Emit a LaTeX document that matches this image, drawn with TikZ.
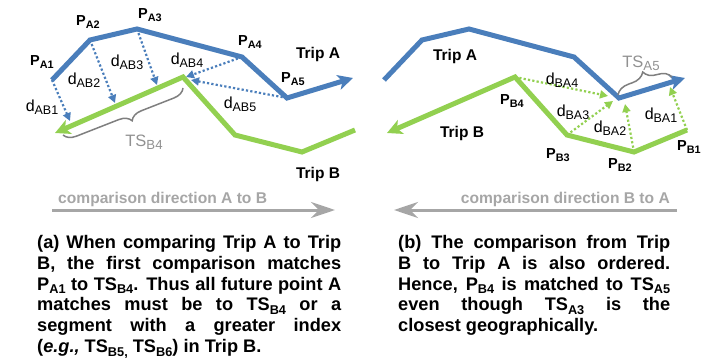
\documentclass[tikz,border=0pt]{standalone}
\usepackage{fontspec}
\setmainfont{Liberation Sans}
\usetikzlibrary{arrows.meta,decorations.pathreplacing}
\definecolor{tripblue}{RGB}{74,126,187}
\definecolor{tripgreen}{RGB}{146,208,80}
\definecolor{dirgray}{RGB}{166,166,166}
\definecolor{bracegray}{RGB}{127,127,127}
\definecolor{tsgray}{RGB}{145,145,145}
\newcommand{\lowsub}[2][0.72]{\raisebox{-0.2em}{\scalebox{#1}{#2}}}
\tikzset{
	trip/.style={line width=5pt},
	tripend/.style={-{Stealth[length=15pt,width=15pt,inset=4pt]}},
	dist/.style={line width=2.2pt,dash pattern=on 2.2pt off 2.2pt,-{Triangle[length=8pt,width=8pt]}},
	ptlabel/.style={font=\fontsize{14.5}{16}\selectfont\bfseries},
	dlabel/.style={font=\fontsize{16}{18}\selectfont},
	triplabel/.style={font=\fontsize{15.5}{18}\selectfont\bfseries},
	tslabel/.style={font=\fontsize{16.5}{18}\selectfont,text=tsgray},
	tsbrace/.style={draw=bracegray,line width=1.5pt,decorate,decoration={brace}},
	dirarrow/.style={draw=dirgray,line width=3pt,-{Stealth[length=24pt,width=16pt,inset=8pt]}},
	dirlabel/.style={font=\fontsize{15.6}{18}\selectfont\bfseries,text=dirgray,inner sep=0pt},
	captext/.style={font=\fontsize{18.2}{20.8}\selectfont\bfseries,align=justify,inner sep=0pt},
}
\begin{document}
\begin{tikzpicture}[x=1pt,y=-1pt]
		\useasboundingbox (0,0) rectangle (714,358);
		
		\coordinate (pa1) at (52,80);
		\coordinate (pa2) at (90,40);
		\coordinate (pa3) at (137,29);
		\coordinate (pa4) at (242,57);
		\coordinate (pa5) at (287,98);
		\coordinate (paend) at (353,78);
		\coordinate (lb1) at (355,130);
		\coordinate (lb2) at (302,152);
		\coordinate (lb3) at (235,135);
		\coordinate (lb4) at (183,77);
		\coordinate (lbend) at (55,133);
		
		\coordinate (qa1) at (384,80);
		\coordinate (qa2) at (422,40);
		\coordinate (qa3) at (469,29);
		\coordinate (qa4) at (574,57);
		\coordinate (qa5) at (619,98);
		\coordinate (qaend) at (685,78);
		\coordinate (qb1) at (687,130);
		\coordinate (qb2) at (634,152);
		\coordinate (qb3) at (567,135);
		\coordinate (qb4) at (515,77);
		\coordinate (qbend) at (387,133);
		
		\draw[trip,tripblue,tripend] (pa1)--(pa2)--(pa3)--(pa4)--(pa5)--(paend);
		\draw[trip,tripgreen,tripend] (lb1)--(lb2)--(lb3)--(lb4)--(lbend);
		\draw[trip,tripblue,tripend] (qa1)--(qa2)--(qa3)--(qa4)--(qa5)--(qaend);
		\draw[trip,tripgreen,tripend] (qb1)--(qb2)--(qb3)--(qb4)--(qbend);
		
		\coordinate (fa1) at (70,121);
		\coordinate (fa2) at (115,103);
		\coordinate (fa3) at (157,85);
		\coordinate (fa4) at (186,77);
		\coordinate (fa5) at (191,80);
		\draw[dist,tripblue] (pa1)--(fa1);
		\draw[dist,tripblue] (pa2)--(fa2);
		\draw[dist,tripblue] (pa3)--(fa3);
		\draw[dist,tripblue] (pa4)--(fa4);
		\draw[dist,tripblue] (pa5)--(fa5);
		
		\coordinate (fb4) at (608,96);
		\coordinate (fb3) at (613,101);
		\coordinate (fb2) at (625,104);
		\coordinate (fb1) at (670,87);
		\draw[dist,tripgreen] (qb4)--(fb4);
		\draw[dist,tripgreen] (qb3)--(fb3);
		\draw[dist,tripgreen] (qb2)--(fb2);
		\draw[dist,tripgreen] (qb1)--(fb1);
		
		\coordinate (bra0) at (183,88);
		\coordinate (bra1) at (63,135);
		\coordinate (brb0) at (618,95);
		\coordinate (brb1) at (672,77);
		\draw[tsbrace,decoration={amplitude=12pt,aspect=0.46}] (bra0)--(bra1);
		\draw[tsbrace,decoration={amplitude=14pt,aspect=0.54}] (brb0)--(brb1);
		
		\node[ptlabel] (lpa1) at (42,62) {P\lowsub[0.75]{A1}};
		\node[ptlabel] (lpa2) at (88,22) {P\lowsub[0.75]{A2}};
		\node[ptlabel] (lpa3) at (150,15) {P\lowsub[0.75]{A3}};
		\node[ptlabel] (lpa4) at (250,42) {P\lowsub[0.75]{A4}};
		\node[ptlabel] (lpa5) at (293,79) {P\lowsub[0.75]{A5}};
		\node[triplabel] (ltripa) at (318,54) {Trip A};
		\node[triplabel] (ltripb) at (318,174) {Trip B};
		\node[dlabel] (ldab1) at (42,107) {d\lowsub[0.78]{AB1}};
		\node[dlabel] (ldab2) at (84,80) {d\lowsub[0.78]{AB2}};
		\node[dlabel] (ldab3) at (127,62) {d\lowsub[0.78]{AB3}};
		\node[dlabel] (ldab4) at (187,60) {d\lowsub[0.78]{AB4}};
		\node[dlabel] (ldab5) at (240,104) {d\lowsub[0.78]{AB5}};
		\node[tslabel] (ltsb4) at (144,142) {TS\lowsub[0.8]{B4}};
		
		\node[triplabel] (rtripa) at (455,56) {Trip A};
		\node[triplabel] (rtripb) at (462,133) {Trip B};
		\node[ptlabel] (rpb4) at (512,101) {P\lowsub[0.75]{B4}};
		\node[ptlabel] (rpb3) at (558,155) {P\lowsub[0.75]{B3}};
		\node[ptlabel] (rpb2) at (620,165) {P\lowsub[0.75]{B2}};
		\node[ptlabel] (rpb1) at (689,147) {P\lowsub[0.75]{B1}};
		\node[dlabel] (rdba4) at (562,80) {d\lowsub[0.78]{BA4}};
		\node[dlabel] (rdba3) at (573,112) {d\lowsub[0.78]{BA3}};
		\node[dlabel] (rdba2) at (610,128) {d\lowsub[0.78]{BA2}};
		\node[dlabel] (rdba1) at (661,115) {d\lowsub[0.78]{BA1}};
		\node[tslabel] (rtsa5) at (641,63) {TS\lowsub[0.8]{A5}};
		
		\coordinate (dira0) at (52,210);
		\coordinate (dira1) at (335,210);
		\coordinate (dirb0) at (677,210);
		\coordinate (dirb1) at (394,210);
		\draw[dirarrow] (dira0)--(dira1);
		\draw[dirarrow] (dirb0)--(dirb1);
		\node[dirlabel,anchor=base west] (dirlaba) at (58,204) {comparison direction A to B};
		\node[dirlabel,anchor=base east] (dirlabb) at (670,204) {comparison direction B to A};
		
		\node[captext,text width=304pt,anchor=base west] (capa) at (37,248.5) {\hyphenpenalty=10000\tolerance=10000 (a) When comparing Trip A to Trip\linebreak B, the first comparison matches\linebreak P\lowsub[0.7]{A1} to TS\lowsub[0.7]{B4}. Thus all future point A\linebreak matches must be to TS\lowsub[0.7]{B4} or a\linebreak segment with a greater index\linebreak (\textit{e.g.,} TS\lowsub[0.7]{B5,} TS\lowsub[0.7]{B6}) in Trip B.};
		\node[captext,text width=272pt,anchor=base west] (capb) at (398,248.5) {\hyphenpenalty=10000\tolerance=10000 (b) The comparison from Trip\linebreak B to Trip A is also ordered.\linebreak Hence, P\lowsub[0.7]{B4} is matched to TS\lowsub[0.7]{A5}\linebreak even though TS\lowsub[0.7]{A3} is the\linebreak closest geographically.};
	\end{tikzpicture}
\end{document}
